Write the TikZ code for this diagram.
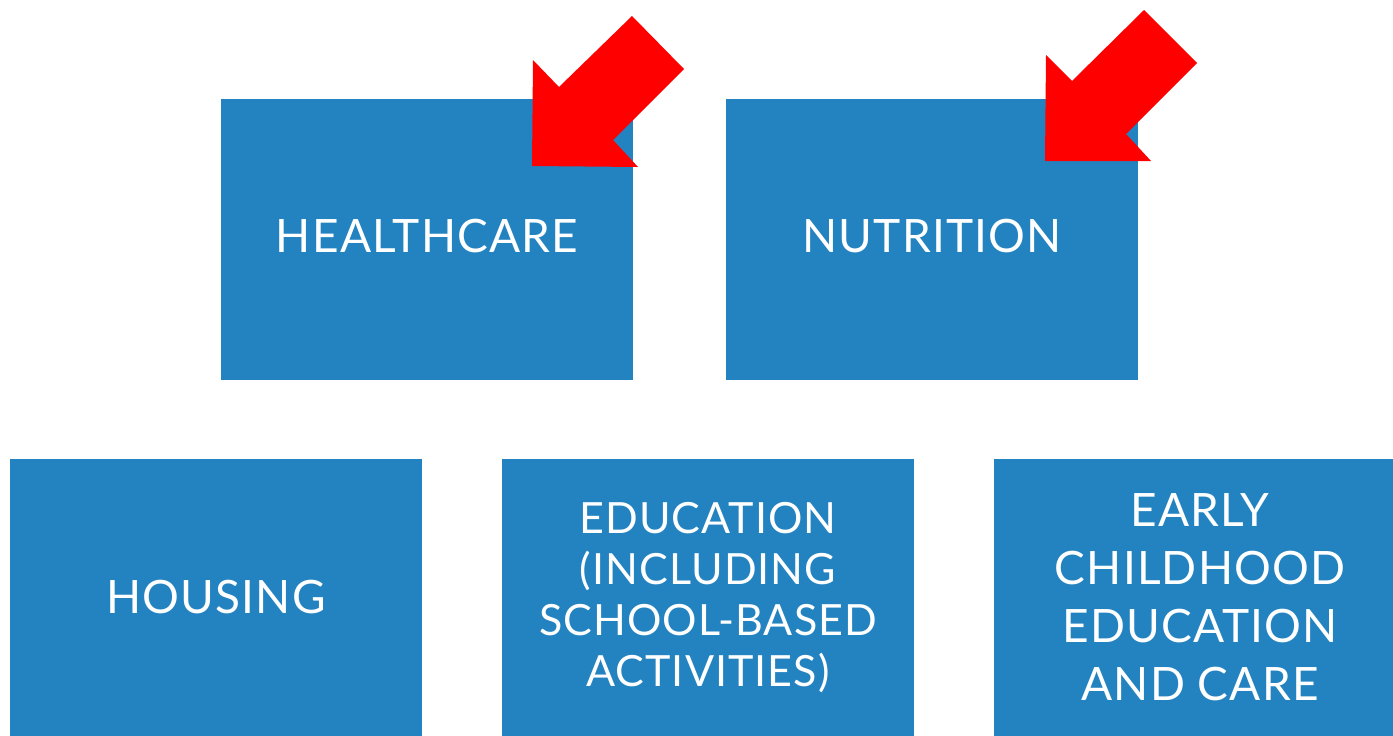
\documentclass[tikz,border=0pt]{standalone}
\usepackage{fontspec}
\setmainfont{Lato}[LetterSpace=2.5]
\definecolor{boxblue}{RGB}{35,131,193}
\definecolor{arrowred}{RGB}{255,0,0}
\begin{document}
\begin{tikzpicture}[x=1pt,y=-1pt,
  tile/.style={fill=boxblue, draw=none, text=white, align=center,
    inner sep=0pt, anchor=north west},
  bigtext/.style={font=\fontsize{46}{58}\selectfont},
  smalltext/.style={font=\fontsize{43}{51}\selectfont},
  pointer/.style={fill=arrowred, draw=none}]
\useasboundingbox (0,0) rectangle (1393,736);

% upper row
\node[tile, minimum width=412pt, minimum height=281pt] (hc) at (221,99) {};
\node[text=white, bigtext] (hct) at (427,236) {HEALTHCARE};
\node[tile, minimum width=412pt, minimum height=281pt] (nu) at (726,99) {};
\node[text=white, bigtext] (nut) at (932,236) {NUTRITION};

% lower row
\node[tile, minimum width=412pt, minimum height=277pt] (ho) at (10,459) {};
\node[text=white, bigtext] (hot) at (216,597) {HOUSING};
\node[tile, minimum width=412pt, minimum height=277pt] (ed) at (502,459) {};
\node[text=white, smalltext, align=center] (edt) at (708,598)
  {EDUCATION\\(INCLUDING\\SCHOOL-BASED\\ACTIVITIES)};
\node[tile, minimum width=412pt, minimum height=277pt] (ec) at (994,459) {};
\node[text=white, bigtext, align=center] (ect) at (1200,597)
  {EARLY\\CHILDHOOD\\EDUCATION\\AND CARE};

% block arrows pointing at the upper boxes
\fill[pointer] (532,166) -- (533,60) -- (559,87) -- (632,16) -- (684,69)
  -- (613,140) -- (638,167) -- cycle;
\fill[pointer] (1045,161) -- (1046,55) -- (1072,81) -- (1144,10) -- (1197,63)
  -- (1126,134) -- (1151,161) -- cycle;
\end{tikzpicture}
\end{document}
